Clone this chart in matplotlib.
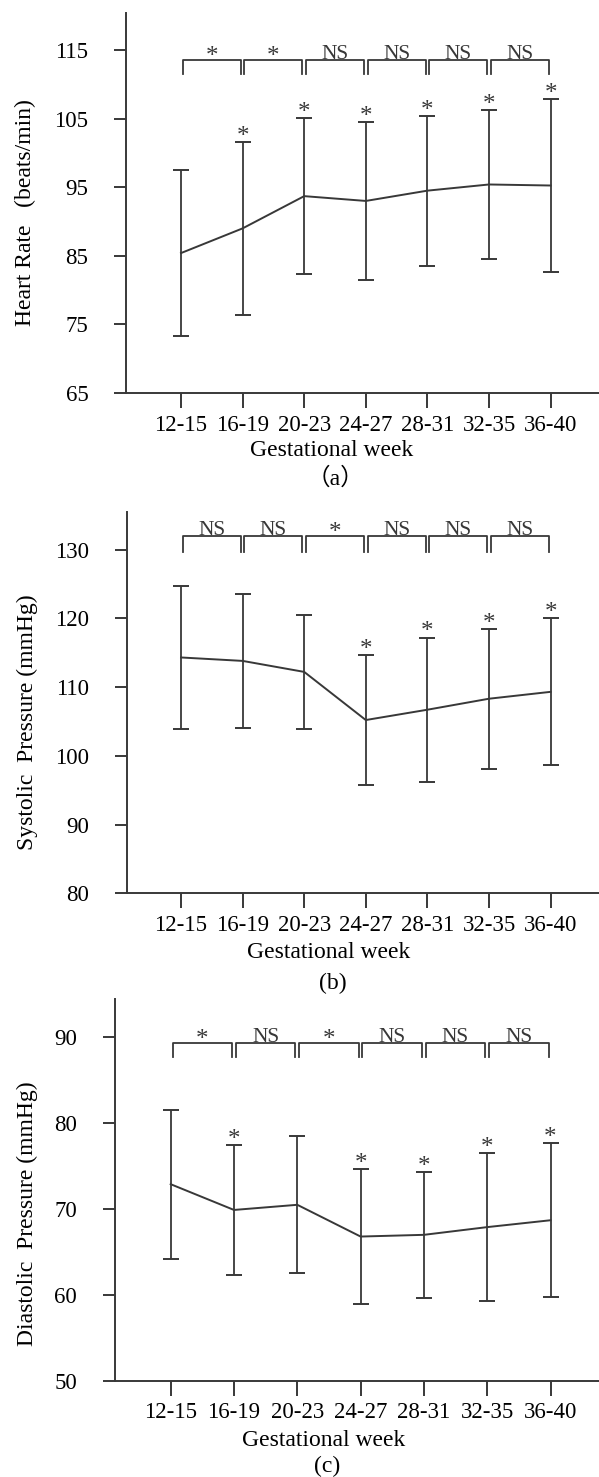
import matplotlib
matplotlib.use('Agg')
import matplotlib.pyplot as plt
import numpy as np

weeks = ['12-15', '16-19', '20-23', '24-27', '28-31', '32-35', '36-40']

# heart rate (beats/min), mean and SD
hr_mean = [85.4, 89.0, 93.7, 93.0, 94.5, 95.4, 95.25]
hr_sd = [12.1, 12.6, 11.4, 11.5, 10.95, 10.8, 12.65]
hr_star = [0, 1, 1, 1, 1, 1, 1]
hr_pairs = ['*', '*', 'NS', 'NS', 'NS', 'NS']

# systolic pressure (mmHg)
sbp_mean = [114.3, 113.8, 112.2, 105.2, 106.7, 108.3, 109.3]
sbp_sd = [10.35, 9.7, 8.3, 9.5, 10.5, 10.2, 10.7]
sbp_star = [0, 0, 0, 1, 1, 1, 1]
sbp_pairs = ['NS', 'NS', '*', 'NS', 'NS', 'NS']

# diastolic pressure (mmHg)
dbp_mean = [72.9, 69.9, 70.5, 66.8, 67.0, 67.9, 68.7]
dbp_sd = [8.7, 7.6, 8.0, 7.9, 7.35, 8.65, 8.95]
dbp_star = [0, 1, 0, 1, 1, 1, 1]
dbp_pairs = ['*', 'NS', '*', 'NS', 'NS', 'NS']

plt.rcParams['font.family'] = ['Liberation Serif', 'Noto Sans CJK SC']
plt.rcParams['font.size'] = 16.5

INK = '#383838'
W, H = 599, 1477

fig = plt.figure(figsize=(W / 100, H / 100), dpi=100)


def panel(left, top, bottom, x0, step, ylim, yticks, mean, sd, star, pairs,
          bracket, ylabel, ylab_pos, letter, gw_xy, let_xy):
    ax = fig.add_axes([left / W, 1 - bottom / H, 1 - left / W, (bottom - top) / H])
    x = np.arange(len(weeks))
    mean = np.array(mean)
    sd = np.array(sd)

    ax.errorbar(x, mean, yerr=sd, color=INK, lw=1.4, elinewidth=1.3,
                capsize=6, capthick=1.4)

    # significance vs first period
    for i in range(len(weeks)):
        if star[i]:
            ax.annotate('*', (x[i], mean[i] + sd[i]), xytext=(0, -0.7),
                        textcoords='offset points', ha='center', va='baseline',
                        fontsize=18, color=INK)

    # brackets between neighbouring periods
    lo, hi = bracket
    for i, txt in enumerate(pairs):
        l, r = x[i] + 0.03, x[i + 1] - 0.03
        ax.plot([l, l, r, r], [lo, hi, hi, lo], color=INK, lw=1.3)
        if txt == 'NS':
            ax.annotate(txt, ((l + r) / 2, hi), xytext=(0, 1.2),
                        textcoords='offset points', ha='center', va='baseline',
                        fontsize=15.5, color=INK)
        else:
            ax.annotate(txt, ((l + r) / 2, hi), xytext=(0, -1.8),
                        textcoords='offset points', ha='center', va='baseline',
                        fontsize=18, color=INK)

    ax.set_xlim((left - x0) / step, (W - x0) / step)
    ax.set_ylim(*ylim)
    ax.set_xticks(x)
    ax.set_xticklabels(weeks)
    ax.set_yticks(yticks)
    for s in ['top', 'right']:
        ax.spines[s].set_visible(False)
    for s in ['left', 'bottom']:
        ax.spines[s].set_linewidth(1.4)
        ax.spines[s].set_color(INK)
    ax.tick_params(axis='x', length=10.5, width=1.4, pad=5, color=INK)
    ax.tick_params(axis='y', length=9, width=1.4, pad=18, color=INK)

    ax.set_ylabel(ylabel, fontsize=17)
    ax.yaxis.set_label_coords(*ylab_pos)

    fig.text(gw_xy[0] / W, 1 - gw_xy[1] / H, 'Gestational week', fontsize=17,
             ha='center', va='center')
    fig.text(let_xy[0] / W, 1 - let_xy[1] / H, letter, fontsize=17,
             ha='center', va='center')
    return ax


panel(126, 13, 393, 181, 61.6, (65, 120.4), np.arange(65, 116, 10),
      hr_mean, hr_sd, hr_star, hr_pairs, (111.45, 113.5),
      'Heart Rate   (beats/min)', (-0.19, 0.475), '（a）', (331.5, 450), (335, 478))

panel(126.5, 511.7, 893.3, 181, 61.6, (80, 135.5), np.arange(80, 131, 10),
      sbp_mean, sbp_sd, sbp_star, sbp_pairs, (129.7, 131.9),
      'Systolic  Pressure (mmHg)', (-0.187, 0.448), '(b)', (329, 953), (332.5, 983))

panel(114.6, 999.3, 1380.7, 170.7, 63.3, (50, 94.45), np.arange(50, 91, 10),
      dbp_mean, dbp_sd, dbp_star, dbp_pairs, (87.67, 89.3),
      'Diastolic  Pressure (mmHg)', (-0.158, 0.437), '(c)', (324, 1441), (327, 1466))

fig.savefig('out.png', dpi=100)
